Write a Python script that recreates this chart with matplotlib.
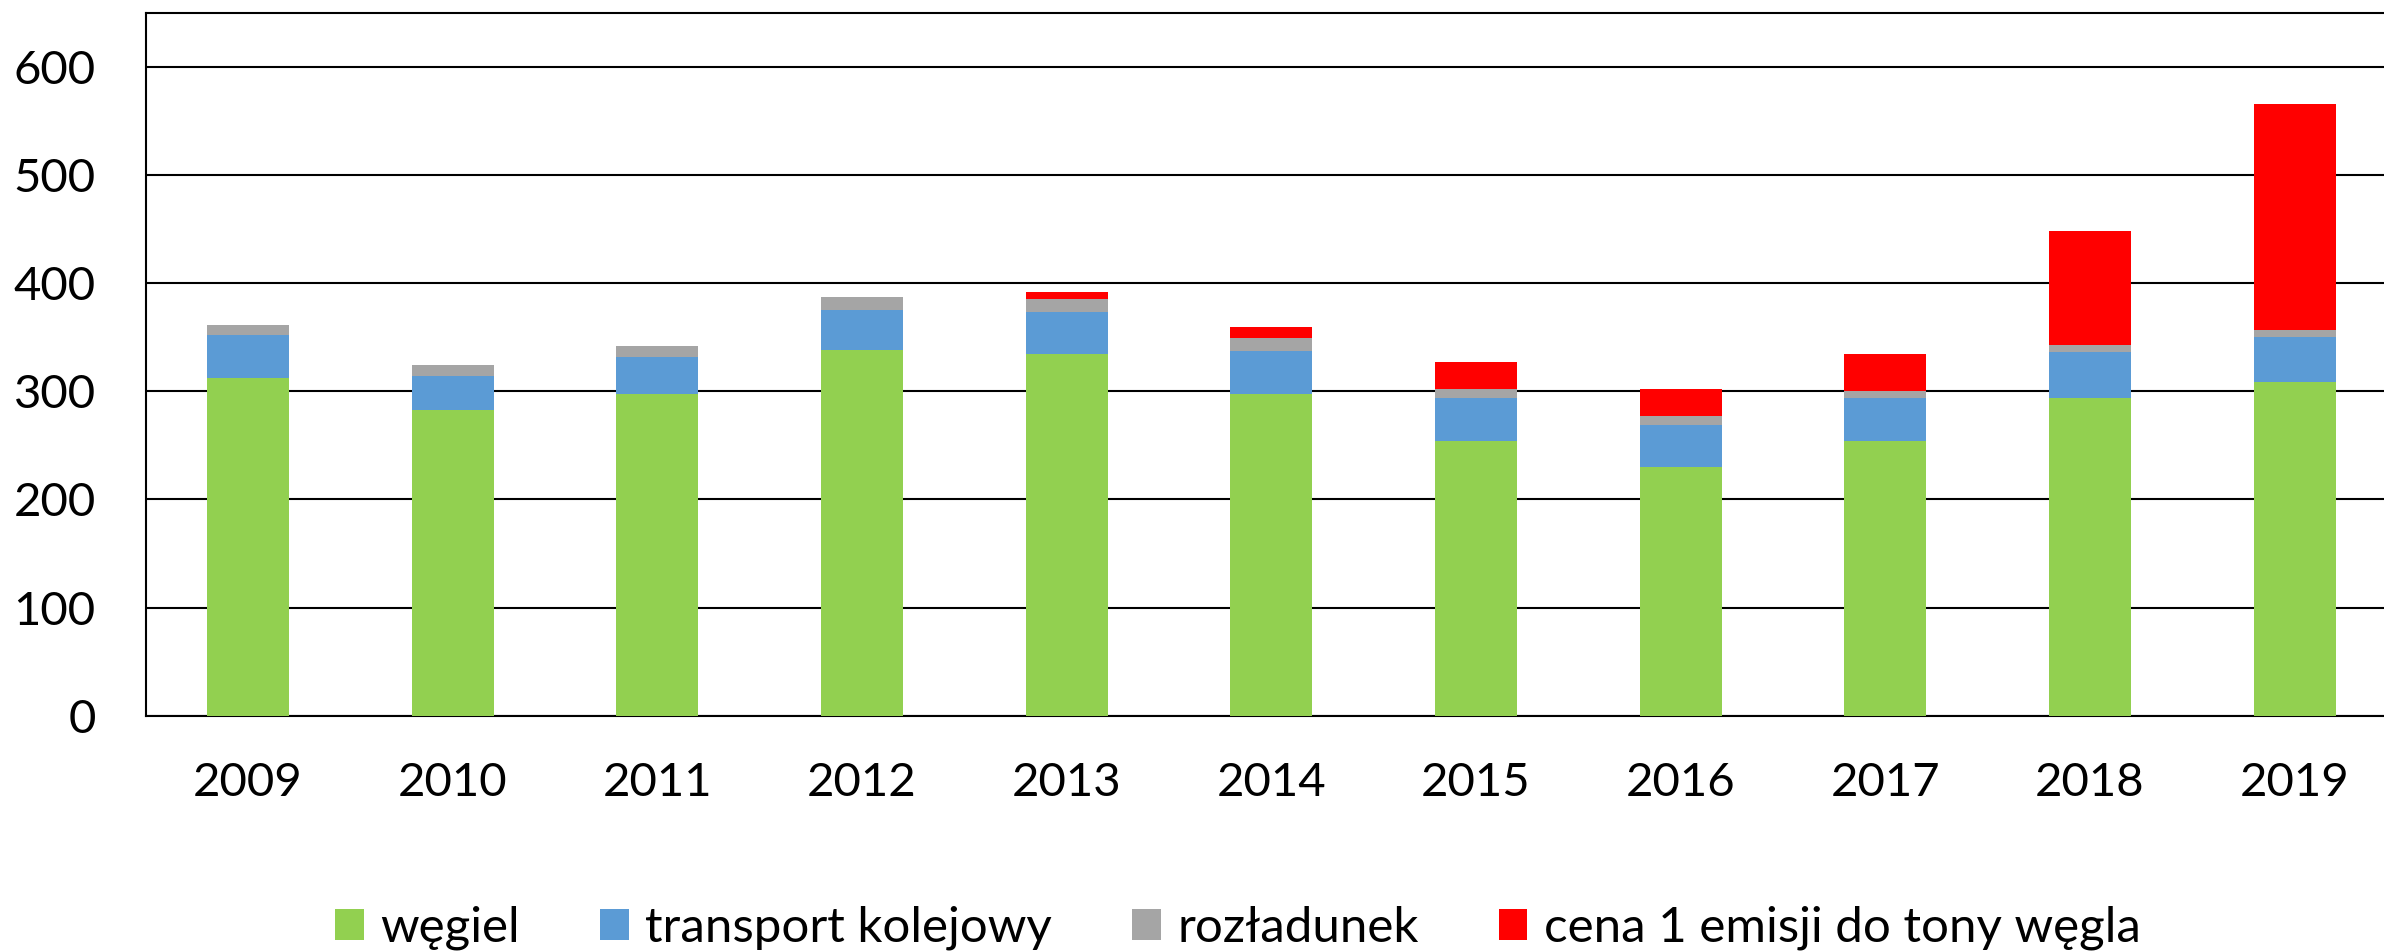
import matplotlib
matplotlib.use("Agg")
import matplotlib.pyplot as plt
import numpy as np

years = ["2009", "2010", "2011", "2012", "2013", "2014", "2015", "2016", "2017", "2018", "2019"]
wegiel = [312, 282.5, 298, 338, 334.5, 297.5, 254.5, 230, 254.5, 294, 308.5]
transport = [40, 31.5, 34, 37.5, 39, 39.5, 39.5, 39, 39.5, 42, 42]
rozladunek = [9, 10, 10, 11.5, 11.5, 12.5, 8, 8.5, 6.5, 6.5, 6.5]
emisja = [0, 0, 0, 0, 7, 10, 25, 24.5, 34.5, 105.5, 209]

series_names = ["węgiel", "transport kolejowy", "rozładunek", "cena 1 emisji do tony węgla"]
colors = ["#92D050", "#5B9BD5", "#A5A5A5", "#FF0000"]

plt.rcParams['font.family'] = ['Lato', 'DejaVu Sans']

W, H = 2384, 952
fig = plt.figure(figsize=(W / 100, H / 100), dpi=100)
left, right, top, bottom_px = 145.7, 2397, 13, 715.7
ax = fig.add_axes([left / W, (H - bottom_px) / H, (right - left) / W, (bottom_px - top) / H])

x = np.arange(len(years))
bottom = np.zeros(len(years))
handles = []
for vals, name, c in zip([wegiel, transport, rozladunek, emisja], series_names, colors):
    v = np.array(vals, dtype=float)
    b = ax.bar(x, v, bottom=bottom, width=0.4, color=c, label=name, zorder=3)
    handles.append(b)
    bottom += v

ax.set_xlim(-0.5, len(years) - 0.5)
ax.set_ylim(0, 650)
ax.set_yticks(range(0, 601, 100))
ax.set_xticks(x)
ax.set_xticklabels(years)
ax.yaxis.grid(True, color="black", linewidth=1.5, zorder=0)
ax.set_axisbelow(True)
for s in ax.spines.values():
    s.set_color("black")
    s.set_linewidth(1.5)
ax.tick_params(axis="y", length=0, pad=36, labelsize=34)
ax.tick_params(axis="x", length=0, pad=33, labelsize=34)

fig.legend(handles=handles, labels=series_names, loc="center", ncol=4,
           bbox_to_anchor=(1238 / W, (H - 928) / H), frameon=False,
           fontsize=35.5, handlelength=0.58, handleheight=0.58,
           handletextpad=0.34, columnspacing=1.62)

fig.savefig("out.png", dpi=100)
